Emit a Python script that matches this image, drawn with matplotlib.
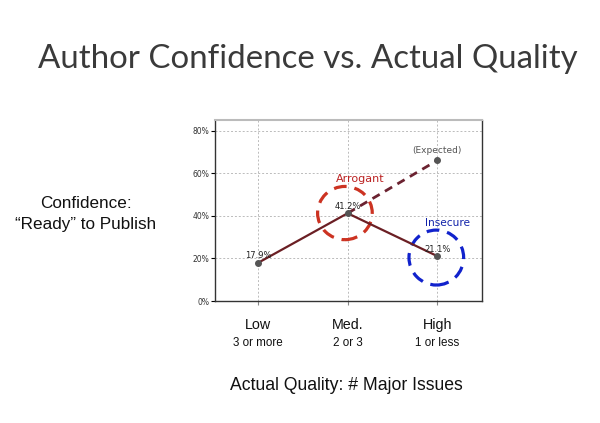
import matplotlib
matplotlib.use("Agg")
import matplotlib.pyplot as plt
from matplotlib.patches import Ellipse

categories = ["Low", "Med.", "High"]
sublabels = ["3 or more", "2 or 3", "1 or less"]
actual = [17.9, 41.2, 21.1]
expected_from = 41.2
expected_to = 66.0
yticks = [0, 20, 40, 60, 80]
ytick_labels = ["0%", "20%", "40%", "60%", "80%"]

fig = plt.figure(figsize=(6.0, 4.23), dpi=100)
fig.patch.set_facecolor("white")
ax = fig.add_axes([215/600, 1 - 301/423, (482-215)/600, (301-120)/423])

x = list(range(len(categories)))
ax.plot([1, 2], [expected_from, expected_to], color="#6b2230", lw=2.0,
        ls=(0, (3, 2.2)), zorder=3)
ax.plot(x, actual, color="#6b1f24", lw=1.6, zorder=4)
ax.scatter(x, actual, color="#555555", s=16, zorder=5)
ax.scatter([2], [expected_to], color="#555555", s=16, zorder=5)

for xi, v in zip(x, actual):
    ax.text(xi, v + 1.2, f"{v:.1f}%", ha="center", va="bottom", fontsize=6,
            color="#222222", zorder=6)
ax.text(2, expected_to + 2.6, "(Expected)", ha="center", va="bottom",
        fontsize=6.5, color="#555555")

ax.add_patch(Ellipse((0.97, 41.3), 0.61, 25.0, fill=False, ec="#cc3322",
                     lw=2.3, ls=(0, (4, 2.5)), zorder=2))
ax.add_patch(Ellipse((1.99, 20.4), 0.61, 25.8, fill=False, ec="#1122cc",
                     lw=2.3, ls=(0, (4, 2.5)), zorder=2))
ax.text(1.14, 55.0, "Arrogant", ha="center", va="bottom", fontsize=8,
        color="#bb2222")
ax.text(2.12, 34.5, "Insecure", ha="center", va="bottom", fontsize=7.6,
        color="#1122aa")

ax.set_xlim(-0.48, 2.5)
ax.set_ylim(0, 85)
ax.set_yticks(yticks)
ax.set_yticklabels(ytick_labels, fontsize=5.5, color="#333333")
ax.set_xticks(x)
ax.set_xticklabels([])
ax.tick_params(axis="x", length=3, color="#888888")
ax.tick_params(axis="y", length=3, pad=1)
ax.grid(True, ls=(0, (2, 2)), color="#bbbbbb", lw=0.7)
ax.set_axisbelow(True)
for s in ["left", "bottom", "right"]:
    ax.spines[s].set_color("#333333")
    ax.spines[s].set_linewidth(1.0)
ax.spines["top"].set_color("#bbbbbb")
ax.spines["top"].set_linewidth(1.5)

for xi, (c, sub) in enumerate(zip(categories, sublabels)):
    xf = (215 + (xi + 0.48) / 2.98 * 267) / 600
    fig.text(xf, 1 - 325/423, c, ha="center", va="center", fontsize=10.3,
             family="Liberation Sans", color="#111111")
    fig.text(xf, 1 - 343/423, sub, ha="center", va="center", fontsize=8.4,
             family="Liberation Sans", color="#111111")

fig.text(346/600, 1 - 385/423, "Actual Quality: # Major Issues", ha="center",
         va="center", fontsize=12.7, family="Liberation Sans", color="#111111")
fig.text(86/600, 1 - 214/423, "Confidence:\n\u201cReady\u201d to Publish",
         ha="center", va="center", fontsize=12.3, family="Liberation Sans",
         color="#111111", linespacing=1.45)
fig.text(308/600, 1 - 59/423, "Author Confidence vs. Actual Quality",
         ha="center", va="center", fontsize=23.8, family="Lato",
         fontweight="normal", color="#3a3a3a")

fig.savefig("out.png", dpi=100, facecolor="white")
